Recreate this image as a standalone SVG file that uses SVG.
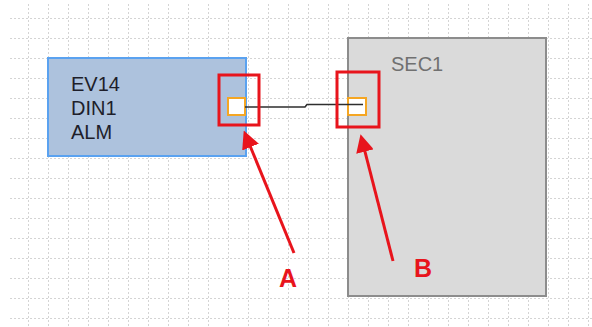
<svg xmlns="http://www.w3.org/2000/svg" width="592" height="327" viewBox="0 0 592 327">
<style>
.grid{stroke:#d4d4d4;stroke-width:1;stroke-dasharray:2 2;fill:none}
.lbl{font-family:"Liberation Sans","Arial",sans-serif;font-size:20px}
.port{fill:#ffffff;stroke:#f5a623;stroke-width:2}
.hl{fill:none;stroke:#e8141c;stroke-width:3}
.arrow{stroke:#e8141c;stroke-width:3;fill:none}
.letter{font-family:"Liberation Sans","Arial",sans-serif;font-size:25px;font-weight:bold;fill:#e8141c;text-anchor:middle}
</style>
<defs>
<marker id="ah" markerWidth="6" markerHeight="6" refX="4" refY="3" orient="auto" markerUnits="strokeWidth">
<path d="M0,0 L6,3 L0,6 Z" fill="#e8141c"/>
</marker>
</defs>
<rect width="592" height="327" fill="#ffffff"/>
<g id="grid">
<path class="grid" d="M10,18.5H592M10,38.5H592M10,58.5H592M10,78.5H592M10,98.5H592M10,118.5H592M10,138.5H592M10,158.5H592M10,178.5H592M10,198.5H592M10,218.5H592M10,238.5H592M10,258.5H592M10,278.5H592M10,298.5H592M10,318.5H592"/>
<path class="grid" d="M28.5,4V327M48.5,4V327M68.5,4V327M88.5,4V327M108.5,4V327M128.5,4V327M148.5,4V327M168.5,4V327M188.5,4V327M208.5,4V327M228.5,4V327M248.5,4V327M268.5,4V327M288.5,4V327M308.5,4V327M328.5,4V327M348.5,4V327M368.5,4V327M388.5,4V327M408.5,4V327M428.5,4V327M448.5,4V327M468.5,4V327M488.5,4V327M508.5,4V327M528.5,4V327M548.5,4V327M568.5,4V327M588.5,4V327"/>
</g>
<g id="node-ev14">
<rect x="48" y="58" width="198" height="98" fill="#adc2dd" stroke="#5aa2f0" stroke-width="2"/>
<text class="lbl" x="71" y="91" fill="#1e1e2a">EV14</text>
<text class="lbl" x="71" y="115" fill="#1e1e2a">DIN1</text>
<text class="lbl" x="71" y="139" fill="#1e1e2a">ALM</text>
<rect class="port" x="228" y="98" width="17" height="17"/>
</g>
<g id="node-sec1">
<rect x="348" y="38" width="198" height="258" fill="#dadada" stroke="#8c8c8c" stroke-width="2"/>
<text class="lbl" x="391" y="71" fill="#707070">SEC1</text>
<rect class="port" x="348" y="98" width="18" height="17"/>
</g>
<g id="connectors">
<polyline points="245,107 305,107 307,104.5 363,104.5" fill="none" stroke="#2e2e2e" stroke-width="1.6"/>
</g>
<g id="annotations">
<rect class="hl" x="219" y="75" width="40" height="50"/>
<rect class="hl" x="337" y="72" width="42" height="55"/>
<line class="arrow" x1="294" y1="253" x2="246" y2="136" marker-end="url(#ah)"/>
<line class="arrow" x1="393" y1="261" x2="362" y2="140" marker-end="url(#ah)"/>
<text class="letter" x="288" y="287">A</text>
<text class="letter" x="423" y="277">B</text>
</g>
</svg>
